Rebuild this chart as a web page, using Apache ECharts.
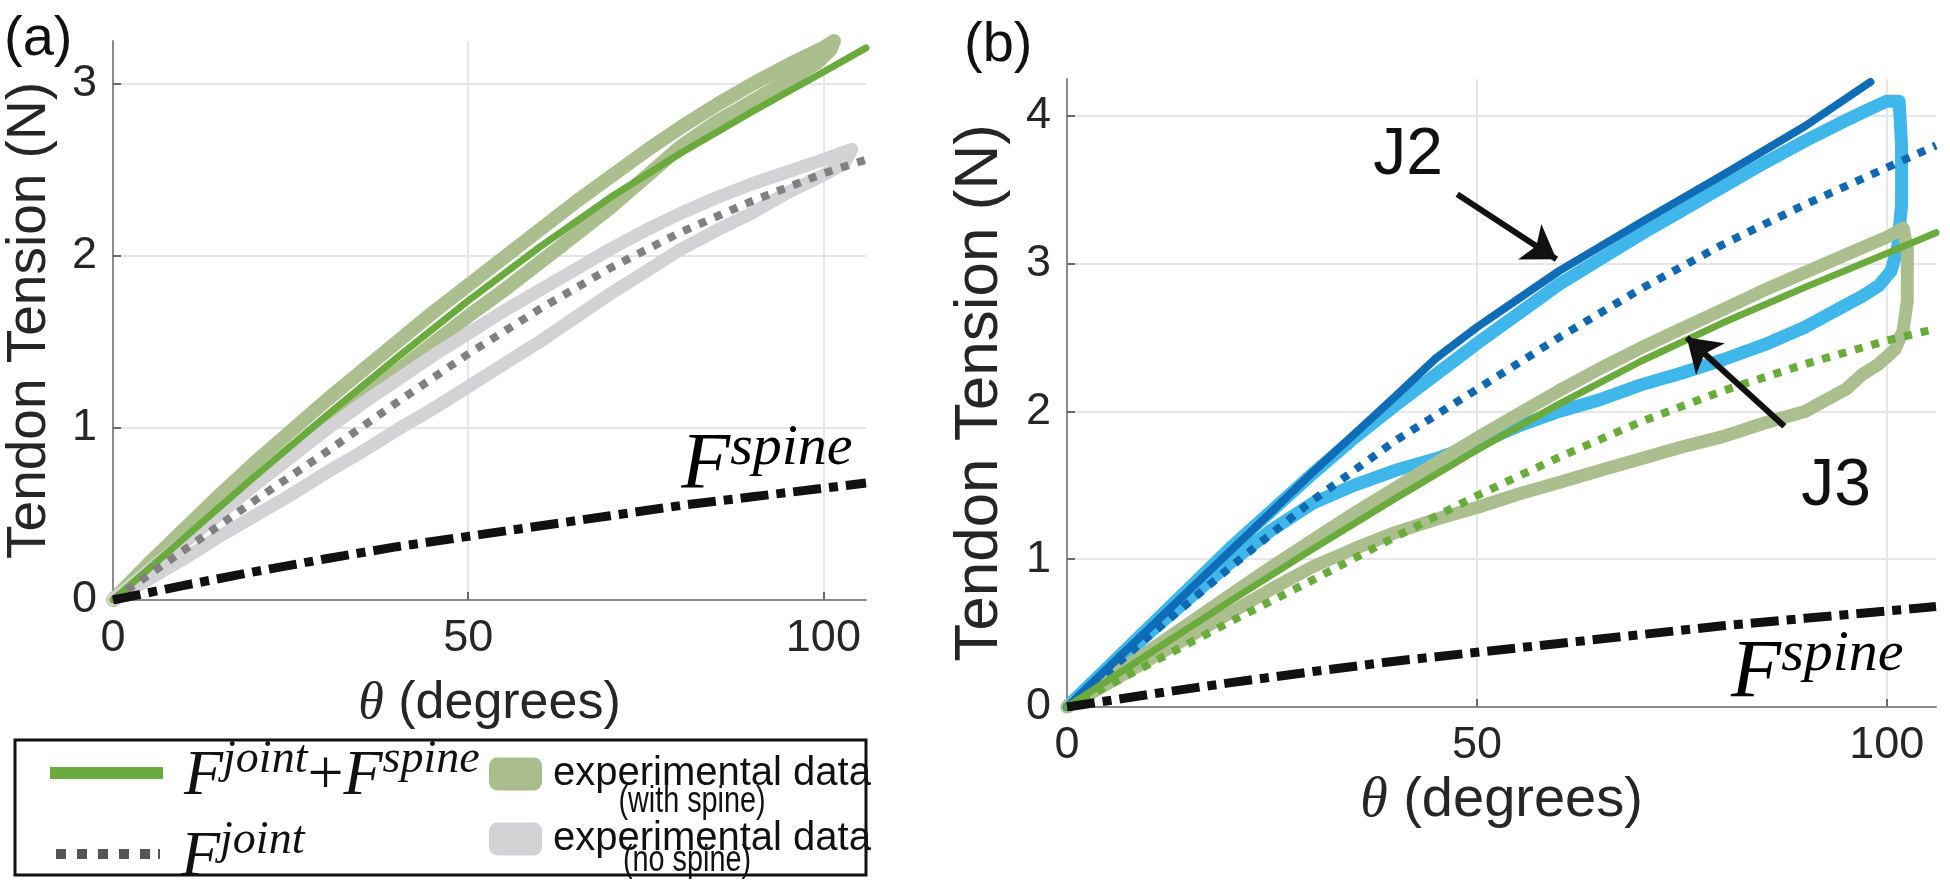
<!DOCTYPE html>
<html>
<head>
<meta charset="utf-8">
<title>Tendon tension vs joint angle</title>
<script src="https://cdn.jsdelivr.net/npm/echarts/dist/echarts.min.js"></script>
<style>
  html, body { margin: 0; padding: 0; background: #fff; }
  #chart { width: 1950px; height: 884px; }
</style>
</head>
<body>
<div id="chart"></div>
<script>
// model curves, sampled on one angle grid (degrees -> N)
const thetaModel = [0, 10, 20, 30, 40, 50, 60, 70, 80, 90, 100, 106];
const forceSpine = [0, 0.085, 0.165, 0.24, 0.31, 0.37, 0.43, 0.49, 0.55, 0.6, 0.65, 0.68];
const forceJointSpine = [0, 0.36, 0.72, 1.07, 1.41, 1.74, 2.05, 2.34, 2.6, 2.84, 3.07, 3.21];
const forceJoint = [0, 0.29, 0.58, 0.86, 1.15, 1.43, 1.69, 1.93, 2.14, 2.32, 2.48, 2.56];
const forceJ2Joint = [0, 0.48, 0.95, 1.4, 1.8, 2.15, 2.5, 2.83, 3.13, 3.4, 3.65, 3.8];

// J2 joint + spine model
const thetaJ2Model = [0, 10, 20, 30, 40, 45, 50, 55, 60, 70, 80, 90, 98];
const forceJ2JointSpine = [0, 0.53, 1.06, 1.59, 2.1, 2.36, 2.57, 2.76, 2.95, 3.28, 3.6, 3.93, 4.23];

// experimental loops (loading then unloading), panel (a)
const expSpineTheta = [0, 5, 10, 15, 20, 25, 30, 35, 40, 45, 50, 55, 60, 65, 70, 75, 80, 85, 90, 95, 100, 101.5,
  101, 99, 95, 90, 85, 80, 75, 70, 65, 60, 55, 50, 45, 40, 35, 30, 25, 20, 15, 10, 5, 0];
const expSpineForce = [0, 0.21, 0.41, 0.61, 0.8, 0.98, 1.16, 1.33, 1.5, 1.67, 1.83, 1.99, 2.15, 2.31, 2.46, 2.61, 2.75, 2.88, 3.0, 3.11, 3.21, 3.25,
  3.2, 3.12, 3.02, 2.9, 2.78, 2.64, 2.46, 2.28, 2.12, 1.96, 1.8, 1.65, 1.49, 1.33, 1.17, 1.0, 0.84, 0.68, 0.51, 0.34, 0.17, 0];
const expNoSpineTheta = [0, 5, 10, 15, 20, 25, 30, 35, 40, 45, 50, 55, 60, 65, 70, 75, 80, 85, 90, 95, 100, 104,
  103, 100, 95, 90, 85, 80, 75, 70, 65, 60, 55, 50, 45, 40, 35, 30, 25, 20, 15, 10, 5, 0];
const expNoSpineForce = [0, 0.17, 0.34, 0.5, 0.67, 0.83, 0.99, 1.14, 1.28, 1.42, 1.55, 1.68, 1.8, 1.92, 2.04, 2.15, 2.25, 2.34, 2.42, 2.49, 2.56, 2.62,
  2.54, 2.47, 2.37, 2.25, 2.15, 2.04, 1.91, 1.78, 1.64, 1.5, 1.37, 1.24, 1.11, 0.99, 0.86, 0.74, 0.61, 0.49, 0.37, 0.24, 0.12, 0];

// experimental loops, panel (b)
const expJ2Theta = [0, 5, 10, 15, 20, 25, 30, 35, 40, 45, 50, 55, 60, 65, 70, 75, 80, 85, 90, 95, 98, 100, 101.5,
  101.8, 101.8, 101.3, 100.5, 99, 97, 95, 90, 85, 80, 75, 70, 65, 60, 55, 50, 45, 40, 35, 30, 25, 20, 15, 10, 5, 0];
const expJ2Force = [0, 0.27, 0.54, 0.81, 1.08, 1.33, 1.58, 1.82, 2.04, 2.25, 2.46, 2.66, 2.86, 3.03, 3.2, 3.36, 3.52, 3.68, 3.83, 3.97, 4.05, 4.1, 4.1,
  3.8, 3.4, 3.1, 2.95, 2.85, 2.78, 2.72, 2.57, 2.45, 2.35, 2.26, 2.18, 2.08, 2.0, 1.9, 1.78, 1.68, 1.6, 1.5, 1.38, 1.2, 0.98, 0.74, 0.5, 0.25, 0];
const expJ3Theta = [0, 5, 10, 15, 20, 25, 30, 35, 40, 45, 50, 55, 60, 65, 70, 75, 80, 85, 90, 95, 100, 102,
  102.5, 102.5, 102, 101, 99, 97, 95, 90, 85, 80, 75, 70, 65, 60, 55, 50, 45, 40, 35, 30, 25, 20, 15, 10, 5, 0];
const expJ3Force = [0, 0.19, 0.38, 0.57, 0.76, 0.95, 1.13, 1.31, 1.48, 1.65, 1.82, 1.98, 2.14, 2.29, 2.43, 2.56, 2.69, 2.82, 2.94, 3.06, 3.18, 3.24,
  3.1, 2.75, 2.55, 2.42, 2.32, 2.25, 2.15, 2.0, 1.92, 1.83, 1.76, 1.68, 1.6, 1.52, 1.44, 1.35, 1.27, 1.18, 1.07, 0.95, 0.8, 0.64, 0.48, 0.32, 0.16, 0];

// annotations in data coordinates
const j2Arrow = [[47.6, 3.47], [59.7, 3.03]];
const j3Arrow = [[87.5, 1.9], [75.6, 2.5]];
const j2LabelAt = [41.6, 3.73];
const j3LabelAt = [93.8, 1.49];
const spineLabelA = [80, 1.05];
const spineLabelB = [81, 0.55];

const sans = 'Liberation Sans';
const serif = 'Liberation Serif';
const ink = '#262626';

const pairs = (xs, ys) => xs.map((x, i) => [x, ys[i]]);

function curve(name, g, data, color, width, dash, z) {
    return {
        name: name,
        type: 'line',
        xAxisIndex: g,
        yAxisIndex: g,
        data: data,
        symbol: 'none',
        showSymbol: false,
        color: color,
        z: z,
        lineStyle: { color: color, width: width, type: dash || 'solid', cap: dash ? 'butt' : 'round', join: 'round' }
    };
}

function xAxisOf(g, nameGap, nameSize) {
    return {
        gridIndex: g, type: 'value', min: 0, max: 106, interval: 50,
        axisLine: { show: true, onZero: false, lineStyle: { color: '#8a8a8a', width: 2 } },
        axisTick: { show: true, inside: true, length: 8, lineStyle: { color: '#6a6a6a', width: 2 } },
        axisLabel: { showMaxLabel: false, color: ink, fontSize: 45, fontFamily: sans, margin: 16 },
        splitLine: { show: true, showMinLine: false, showMaxLine: false, lineStyle: { color: '#e6e6e6', width: 2 } },
        name: '{t|θ} (degrees)', nameLocation: 'middle', nameGap: nameGap,
        nameTextStyle: { color: ink, fontSize: nameSize, fontFamily: sans,
            rich: { t: { fontFamily: serif, fontStyle: 'italic', fontSize: nameSize, color: ink } } }
    };
}

function yAxisOf(g, max, nameGap, nameSize) {
    return {
        gridIndex: g, type: 'value', min: 0, max: max, interval: 1,
        axisLine: { show: true, onZero: false, lineStyle: { color: '#8a8a8a', width: 2 } },
        axisTick: { show: true, inside: true, length: 8, lineStyle: { color: '#6a6a6a', width: 2 } },
        axisLabel: { showMaxLabel: false, color: ink, fontSize: 45, fontFamily: sans, margin: 16 },
        splitLine: { show: true, showMinLine: false, showMaxLine: false, lineStyle: { color: '#e6e6e6', width: 2 } },
        name: 'Tendon Tension (N)', nameLocation: 'middle', nameRotate: 90, nameGap: nameGap,
        nameTextStyle: { color: ink, fontSize: nameSize, fontFamily: sans }
    };
}

const superRich = (big, small) => ({
    f: { fontFamily: serif, fontStyle: 'italic', fontSize: big, lineHeight: big + 8, verticalAlign: 'bottom', color: '#111' },
    s: { fontFamily: serif, fontStyle: 'italic', fontSize: small, lineHeight: small * 0.6, verticalAlign: 'top', color: '#111' },
    p: { fontFamily: serif, fontSize: big, lineHeight: big + 8, verticalAlign: 'bottom', color: '#111' }
});

const legendNames = {
    'Fjoint+Fspine': '{f|F}{s|joint}{p|+}{f|F}{s|spine}',
    'Fjoint': '{f|F}{s|joint}',
    'exp with spine': '{e|experimental data}',
    'exp no spine': '{e|experimental data}'
};

function legendOf(name, icon, color, left, top, w, h) {
    const rich = Object.assign(superRich(64, 46), {
        e: { fontFamily: sans, fontSize: 40, lineHeight: 40, color: '#111' }
    });
    return {
        left: left, top: top, padding: 0, orient: 'vertical',
        itemWidth: w, itemHeight: h, selectedMode: false,
        data: [{ name: name, icon: icon, itemStyle: { color: color, borderWidth: 0 } }],
        formatter: n => legendNames[n],
        textStyle: { rich: rich, padding: [0, 0, 0, icon === 'roundRect' ? 6 : 16] }
    };
}

const chart = echarts.init(document.getElementById('chart'));

chart.setOption({
    animation: false,
    backgroundColor: '#fff',
    grid: [
        { left: 113, top: 41, width: 753, height: 559 },
        { left: 1067, top: 79, width: 869, height: 628 }
    ],
    xAxis: [xAxisOf(0, 78, 52), xAxisOf(1, 51, 56)],
    yAxis: [yAxisOf(0, 3.25, 56, 55), yAxisOf(1, 4.25, 56, 62)],
    legend: [
        legendOf('Fjoint+Fspine', 'rect', '#6bab3d', 50, 737, 113, 12),
        legendOf('Fjoint', 'path://M0 0h10v10h-10zM21 0h10v10h-10zM42 0h10v10h-10zM63 0h10v10h-10zM84 0h10v10h-10zM102 0h2v10h-2z', '#555', 56, 818, 104, 12),
        legendOf('exp with spine', 'roundRect', '#a9bd8d', 489, 754, 53, 33),
        legendOf('exp no spine', 'roundRect', '#d3d3d5', 489, 819, 53, 33)
    ],
    series: [
        // panel (a)
        curve('exp with spine', 0, pairs(expSpineTheta, expSpineForce), '#abbf8e', 14, null, 1),
        curve('exp no spine', 0, pairs(expNoSpineTheta, expNoSpineForce), '#d3d3d5', 13, null, 1),
        curve('Fjoint+Fspine', 0, pairs(thetaModel, forceJointSpine), '#6bab3d', 7, null, 3),
        curve('Fjoint', 0, pairs(thetaModel, forceJoint), '#808080', 8, [8, 9], 3),
        curve('Fspine (a)', 0, pairs(thetaModel, forceSpine), '#111111', 9, [28, 8, 9, 8], 4),
        // panel (b)
        curve('J2 experimental', 1, pairs(expJ2Theta, expJ2Force), '#40b7ea', 13, null, 1),
        curve('J3 experimental', 1, pairs(expJ3Theta, expJ3Force), '#abbf8e', 13, null, 2),
        curve('J2 joint+spine', 1, pairs(thetaJ2Model, forceJ2JointSpine), '#0f6cb6', 8, null, 3),
        curve('J2 joint', 1, pairs(thetaModel, forceJ2Joint), '#1068b3', 8, [8, 9], 3),
        curve('J3 joint+spine', 1, pairs(thetaModel, forceJointSpine), '#6bab3d', 7, null, 3),
        curve('J3 joint', 1, pairs(thetaModel, forceJoint), '#6aac3c', 8, [8, 9], 3),
        Object.assign(curve('Fspine (b)', 1, pairs(thetaModel, forceSpine), '#111111', 9, [28, 8, 9, 8], 4), {
            markLine: {
                silent: true,
                symbol: ['none', 'arrow'],
                symbolSize: 32,
                label: { show: false },
                lineStyle: { color: '#111', width: 6, type: 'solid' },
                data: [
                    [{ coord: j2Arrow[0] }, { coord: j2Arrow[1] }],
                    [{ coord: j3Arrow[0] }, { coord: j3Arrow[1] }]
                ]
            }
        })
    ]
});

// text annotations placed from data coordinates
const at = (g, p) => chart.convertToPixel({ gridIndex: g }, p);
const pA = at(0, spineLabelA);
const pB = at(1, spineLabelB);
const pJ2 = at(1, j2LabelAt);
const pJ3 = at(1, j3LabelAt);
const small = { fontSize: 36, fontFamily: sans, fill: '#111', align: 'center', verticalAlign: 'middle' };

chart.setOption({
    graphic: [
        { type: 'text', left: 4, top: 12, style: { text: '(a)', fontSize: 56, fontFamily: sans, fill: '#111' } },
        { type: 'text', left: 964, top: 18, style: { text: '(b)', fontSize: 56, fontFamily: sans, fill: '#111' } },
        { type: 'text', x: pA[0], y: pA[1], style: { text: '{f|F}{s|spine}', rich: superRich(80, 58), align: 'left', verticalAlign: 'top' } },
        { type: 'text', x: pB[0], y: pB[1], style: { text: '{f|F}{s|spine}', rich: superRich(82, 58), align: 'left', verticalAlign: 'top' } },
        { type: 'text', x: pJ2[0], y: pJ2[1], style: { text: 'J2', fontSize: 66, fontFamily: sans, fill: '#111', align: 'center', verticalAlign: 'middle' } },
        { type: 'text', x: pJ3[0], y: pJ3[1], style: { text: 'J3', fontSize: 66, fontFamily: sans, fill: '#111', align: 'center', verticalAlign: 'middle' } },
        { type: 'text', x: 692, y: 802, scaleX: 0.8, style: Object.assign({ text: '(with spine)' }, small) },
        { type: 'text', x: 687, y: 861, scaleX: 0.8, style: Object.assign({ text: '(no spine)' }, small) },
        { type: 'rect', shape: { x: 15, y: 740, width: 851, height: 135 }, style: { fill: 'none', stroke: '#111', lineWidth: 3 }, z: -1 }
    ]
});
</script>
</body>
</html>
